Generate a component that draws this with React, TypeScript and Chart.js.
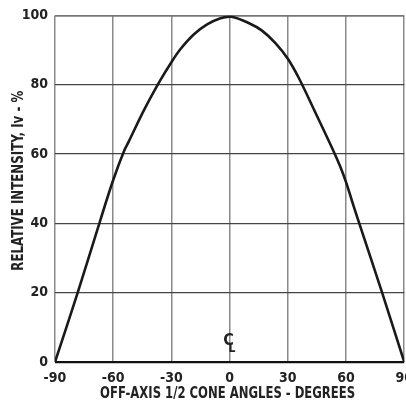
import React, { useEffect, useRef } from "react";
import { Chart, registerables } from "chart.js";

Chart.register(...registerables);

const angles = [-90, -78.3, -66.7, -60, -54.3, -52, -44, -35.7, -30, -25.3, -18.5, -11.6, -4.7, 1, 9.8, 16.7, 23.6, 30, 35.8, 44, 53.1, 57, 60, 63, 66.1, 78.6, 90];
const intensity = [0, 20, 40.8, 52.5, 61, 63.6, 72.8, 81.3, 86.5, 90.3, 94.5, 97.4, 99.2, 99.6, 97.8, 95.6, 92, 87.5, 81.8, 72.2, 61.4, 56.4, 51.9, 46.6, 41.2, 20, 0];
const xTickValues = [-90, -60, -30, 0, 30, 60, 90];
const yTickValues = [0, 20, 40, 60, 80, 100];
const xTitle = "OFF-AXIS 1/2 CONE ANGLES - DEGREES";
const yTitle = "RELATIVE INTENSITY, Iv - %";
const centerMark = { x: -0.6, y: 6, main: "C", sub: "L" };

const FONT = "'Liberation Sans Narrow', 'DejaVu Sans Condensed', 'Liberation Sans', sans-serif";

function drawFitted(ctx: any, text: string, size: number, targetWidth: number) {
  ctx.font = `bold ${size}px ${FONT}`;
  const w = ctx.measureText(text).width;
  const sx = Math.min(1, targetWidth / w);
  ctx.scale(sx, 1);
  ctx.fillText(text, 0, 0);
}

export default function App() {
  const ref = useRef<HTMLCanvasElement | null>(null);
  useEffect(() => {
    if (!ref.current) return;
    const annotPlugin = {
      id: "annot",
      afterDatasetsDraw(chart: any) {
        const { ctx, scales, chartArea } = chart;
        const px = scales.x.getPixelForValue(centerMark.x);
        const py = scales.y.getPixelForValue(centerMark.y);
        ctx.save();
        ctx.fillStyle = "#222";
        ctx.textAlign = "center";
        ctx.textBaseline = "middle";
        ctx.font = `bold 16px ${FONT}`;
        ctx.fillText(centerMark.main, px, py);
        ctx.font = `bold 12px ${FONT}`;
        ctx.fillText(centerMark.sub, px + 3.5, py + 8);
        ctx.restore();

        // x title
        ctx.save();
        ctx.fillStyle = "#222";
        ctx.textAlign = "center";
        ctx.textBaseline = "middle";
        ctx.translate((chartArea.left + chartArea.right) / 2 - 2, chartArea.bottom + 32);
        drawFitted(ctx, xTitle, 16, 255);
        ctx.restore();

        // y title
        ctx.save();
        ctx.fillStyle = "#222";
        ctx.textAlign = "center";
        ctx.textBaseline = "middle";
        ctx.translate(18.5, (chartArea.top + chartArea.bottom) / 2 - 8);
        ctx.rotate(-Math.PI / 2);
        drawFitted(ctx, yTitle, 16, 180);
        ctx.restore();
      },
    };
    const chart = new Chart(ref.current, {
      type: "scatter",
      data: {
        datasets: [
          {
            data: angles.map((a, i) => ({ x: a, y: intensity[i] })),
            showLine: true,
            borderColor: "#1a1a1a",
            borderWidth: 2.6,
            pointRadius: 0,
            tension: 0.35,
          } as any,
        ],
      },
      options: {
        animation: false,
        responsive: false,
        maintainAspectRatio: false,
        layout: { padding: { top: 15, right: 13, left: 0, bottom: 0 } },
        plugins: { legend: { display: false }, tooltip: { enabled: false } },
        scales: {
          x: {
            type: "linear",
            min: -90,
            max: 90,
            afterBuildTicks: (s: any) => {
              s.ticks = xTickValues.map((v) => ({ value: v }));
            },
            afterFit: (s: any) => {
              s.height = 44;
            },
            ticks: {
              padding: 8,
              color: "#222",
              maxRotation: 0,
              autoSkip: false,
              font: { family: FONT, size: 14, weight: "bold" },
            },
            grid: {
              color: "#8a8a8a",
              lineWidth: 1.5,
              drawTicks: false,
            },
            border: { display: false },
          },
          y: {
            type: "linear",
            min: 0,
            max: 100,
            afterBuildTicks: (s: any) => {
              s.ticks = yTickValues.map((v) => ({ value: v }));
            },
            afterFit: (s: any) => {
              s.width = 55;
            },
            ticks: {
              padding: 7,
              color: "#222",
              font: { family: FONT, size: 14, weight: "bold" },
            },
            grid: {
              color: (c: any) => (c.tick && c.tick.value === 0 ? "#111" : c.tick && c.tick.value === 100 ? "#777" : "#444"),
              lineWidth: (c: any) => (c.tick && c.tick.value === 0 ? 2.2 : c.tick && c.tick.value === 100 ? 1.8 : 1.2),
              drawTicks: false,
            },
            border: { display: false },
          },
        },
      },
      plugins: [annotPlugin],
    });
    return () => chart.destroy();
  }, []);
  return (
    <div style={{ position: "fixed", left: 0, top: 0, width: 406, height: 406, overflow: "hidden", background: "#fff" }}>
      <canvas ref={ref} width={421} height={406} style={{ display: "block", width: 421, height: 406 }} />
    </div>
  );
}
